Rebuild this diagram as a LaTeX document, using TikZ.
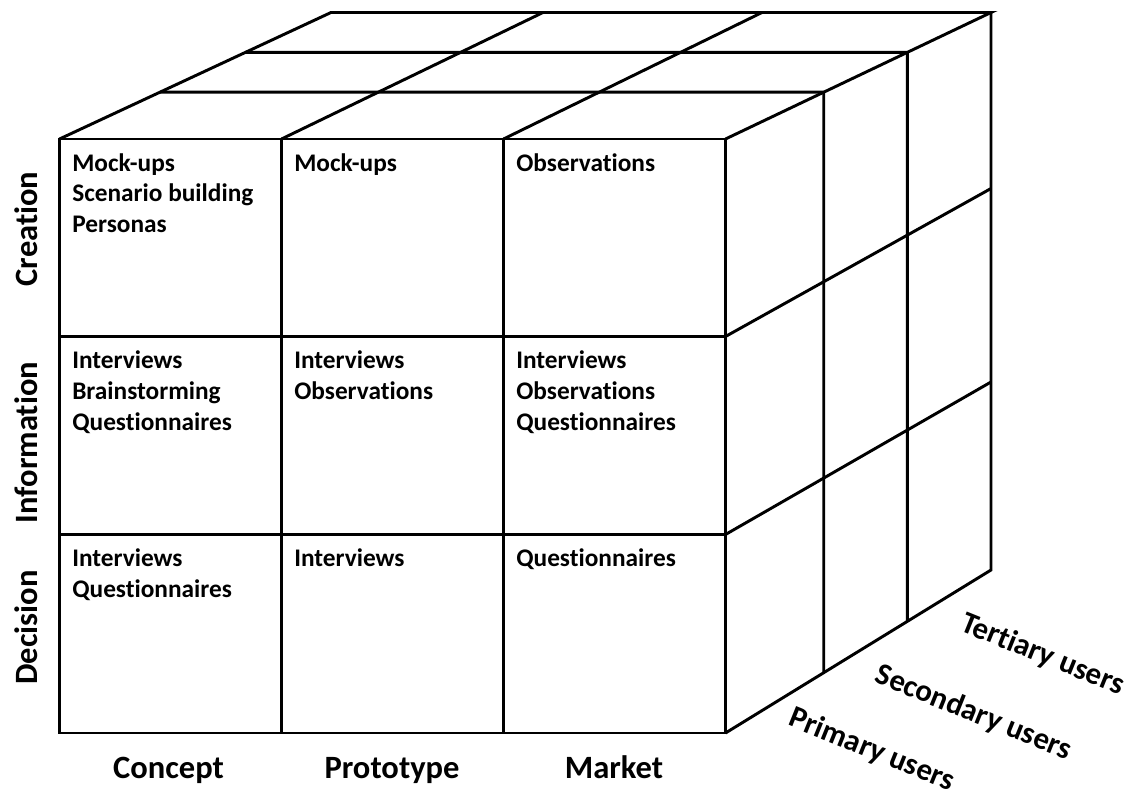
\documentclass[tikz,border=0pt]{standalone}
\usepackage{fontspec}
\setmainfont{Carlito}[Ligatures=NoCommon]
\usetikzlibrary{calc}
\newcommand\cellstrut{\rule{0pt}{14pt}}
\begin{document}
\begin{tikzpicture}[x=0.75pt,y=-0.75pt,
  edge/.style={line width=2.2pt, line join=miter},
  celltext/.style={anchor=north west, inner sep=0pt, align=left,
    font=\fontsize{19}{22.9}\selectfont\bfseries},
  axislabel/.style={inner sep=0pt, font=\fontsize{24.4}{28}\selectfont\bfseries},
  rowlabel/.style={axislabel, rotate=90},
  userlabel/.style={inner sep=0pt, rotate=-22,
    font=\fontsize{23.2}{28}\selectfont\bfseries}]
\useasboundingbox (0,0) rectangle (1131,798);

% corners of the cube
\coordinate (FTL) at (59.5,139);
\coordinate (FTR) at (725.5,139);
\coordinate (FBR) at (725.5,733);
\coordinate (FBL) at (59.5,733);
\coordinate (BTL) at (331,12.5);
\coordinate (BTR) at (991,12.5);
\coordinate (BBR) at (991,570);

% depth layers on the top-right edge
\coordinate (P1) at ($(FTR)!0.37!(BTR)$);
\coordinate (P2) at ($(FTR)!0.685!(BTR)$);
\coordinate (P1w) at ($(P1)+(-900,0)$);
\coordinate (P2w) at ($(P2)+(-900,0)$);
\coordinate (P1s) at ($(P1)+(0,900)$);
\coordinate (P2s) at ($(P2)+(0,900)$);
\coordinate (L1) at (intersection of FTL--BTL and P1--P1w);
\coordinate (L2) at (intersection of FTL--BTL and P2--P2w);
\coordinate (D1) at (intersection of FBR--BBR and P1--P1s);
\coordinate (D2) at (intersection of FBR--BBR and P2--P2s);

% front face grid
\draw[edge] (FTL) rectangle (FBR);
\draw[edge] (281.5,139) -- (281.5,733) (503.5,139) -- (503.5,733);
\draw[edge] (59.5,336.5) -- (725.5,336.5) (59.5,534.5) -- (725.5,534.5);

% top face
\draw[edge] (FTL) -- (BTL) -- (BTR) -- (FTR);
\draw[edge] (281.5,139) -- (543,12.5) (503.5,139) -- (762,12.5);
\draw[edge] (L1) -- (P1) (L2) -- (P2);

% right face
\draw[edge] (FBR) -- (BBR) -- (BTR);
\draw[edge] (725.5,336.5) -- (991,188.5) (725.5,534.5) -- (991,382);
\draw[edge] (P1) -- (D1) (P2) -- (D2);

% methods per cell
\node[celltext] (c11) at (72,152.5) {\cellstrut Mock-ups\\Scenario building\\Personas};
\node[celltext] (c12) at (294,152.5) {\cellstrut Mock-ups};
\node[celltext] (c13) at (516,152.5) {\cellstrut Observations};
\node[celltext] (c21) at (72,350) {\cellstrut Interviews\\Brainstorming\\Questionnaires};
\node[celltext] (c22) at (294,350) {\cellstrut Interviews\\Observations};
\node[celltext] (c23) at (516,350) {\cellstrut Interviews\\Observations\\Questionnaires};
\node[celltext] (c31) at (72,548) {\cellstrut Interviews\\Questionnaires};
\node[celltext] (c32) at (294,548) {\cellstrut Interviews};
\node[celltext] (c33) at (516,548) {\cellstrut Questionnaires};

% stage labels
\node[axislabel, anchor=base] (concept) at (168.5,778) {Concept};
\node[axislabel, anchor=base] (prototype) at (392,778) {Prototype};
\node[axislabel, anchor=base] (market) at (614,778) {Market};

% activity labels
\node[rowlabel] (creation) at (26.5,229) {Creation};
\node[rowlabel] (information) at (26,442.5) {Information};
\node[rowlabel] (decision) at (26.5,627.5) {Decision};

% user groups
\node[userlabel] (primary) at (871.7,750) {Primary users};
\node[userlabel] (secondary) at (973.3,713) {Secondary users};
\node[userlabel] (tertiary) at (1042.5,655) {Tertiary users};
\end{tikzpicture}
\end{document}
